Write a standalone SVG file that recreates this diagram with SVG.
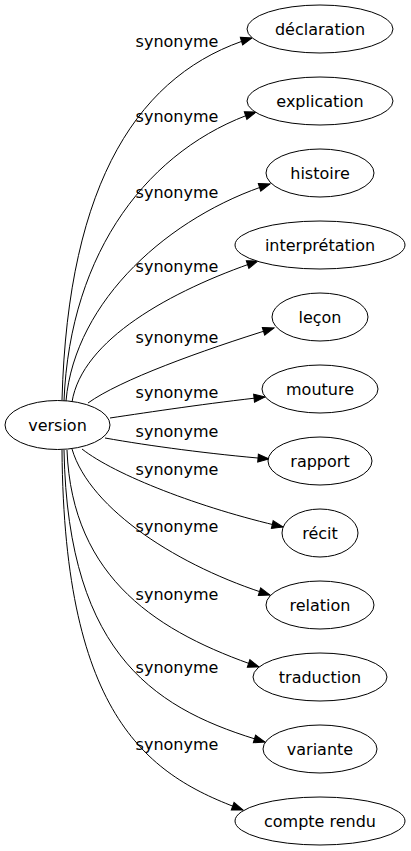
<svg xmlns="http://www.w3.org/2000/svg" width="411" height="851" viewBox="0 0 411 851">
<style>
.n ellipse{fill:#fff;stroke:#000;stroke-width:1}
text{font-family:"DejaVu Sans","Liberation Sans",sans-serif;font-size:16px;fill:#000;text-anchor:middle}
.e path{fill:none;stroke:#000;stroke-width:1;marker-end:url(#ah)}
</style>
<defs>
<marker id="ah" markerUnits="userSpaceOnUse" markerWidth="14" markerHeight="10" refX="11" refY="4" orient="auto" overflow="visible">
<path d="M0,0 L11,4 L0,8 z" fill="#000" stroke="#000" stroke-width="1"/>
</marker>
</defs>
<rect width="411" height="851" fill="#fff"/>
<g id="connectors" class="e">
<path d="M62,400 C68,180 140,72 252,38"/>
<path d="M64,401 C70,250 150,148 256,112"/>
<path d="M66,401 C75,300 170,216 270,184"/>
<path d="M72,402 C82,340 170,291 258,261"/>
<path d="M88,403 C120,380 200,351 274,328"/>
<path d="M110,418 C150,412 210,403 265,397"/>
<path d="M105,438 C150,446 210,454 269,459"/>
<path d="M82,449 C115,475 200,508 283,527"/>
<path d="M72,449 C90,510 180,567 270,595"/>
<path d="M67,450 C72,580 160,633 259,667"/>
<path d="M64,450 C68,660 160,711 265,742"/>
<path d="M62,450 C64,720 150,776 243,810"/>
</g>
<g id="labels">
<text x="177" y="47">synonyme</text>
<text x="177" y="122">synonyme</text>
<text x="177" y="198">synonyme</text>
<text x="177" y="272">synonyme</text>
<text x="177" y="343">synonyme</text>
<text x="177" y="398">synonyme</text>
<text x="177" y="437">synonyme</text>
<text x="177" y="475">synonyme</text>
<text x="177" y="532">synonyme</text>
<text x="177" y="600">synonyme</text>
<text x="177" y="673">synonyme</text>
<text x="177" y="750">synonyme</text>
</g>
<g id="version" class="n"><ellipse cx="57.5" cy="425" rx="52.5" ry="24.5"/><text x="57.5" y="430.5">version</text></g>
<g id="declaration" class="n"><ellipse cx="320" cy="29" rx="73" ry="24"/><text x="320" y="34.5">déclaration</text></g>
<g id="explication" class="n"><ellipse cx="320" cy="101" rx="73" ry="24"/><text x="320" y="106.5">explication</text></g>
<g id="histoire" class="n"><ellipse cx="320" cy="173" rx="54" ry="24"/><text x="320" y="178.5">histoire</text></g>
<g id="interpretation" class="n"><ellipse cx="320" cy="245" rx="85" ry="24"/><text x="320" y="250.5">interprétation</text></g>
<g id="lecon" class="n"><ellipse cx="320" cy="317" rx="48" ry="24"/><text x="320" y="322.5">leçon</text></g>
<g id="mouture" class="n"><ellipse cx="320" cy="389" rx="58" ry="24"/><text x="320" y="394.5">mouture</text></g>
<g id="rapport" class="n"><ellipse cx="320" cy="461" rx="52" ry="24"/><text x="320" y="466.5">rapport</text></g>
<g id="recit" class="n"><ellipse cx="320" cy="533" rx="38" ry="24"/><text x="320" y="538.5">récit</text></g>
<g id="relation" class="n"><ellipse cx="320" cy="605" rx="54" ry="24"/><text x="320" y="610.5">relation</text></g>
<g id="traduction" class="n"><ellipse cx="320" cy="677" rx="67" ry="24"/><text x="320" y="682.5">traduction</text></g>
<g id="variante" class="n"><ellipse cx="320" cy="749" rx="57" ry="24"/><text x="320" y="754.5">variante</text></g>
<g id="compte_rendu" class="n"><ellipse cx="320" cy="821" rx="85" ry="24"/><text x="320" y="826.5">compte rendu</text></g>
</svg>
